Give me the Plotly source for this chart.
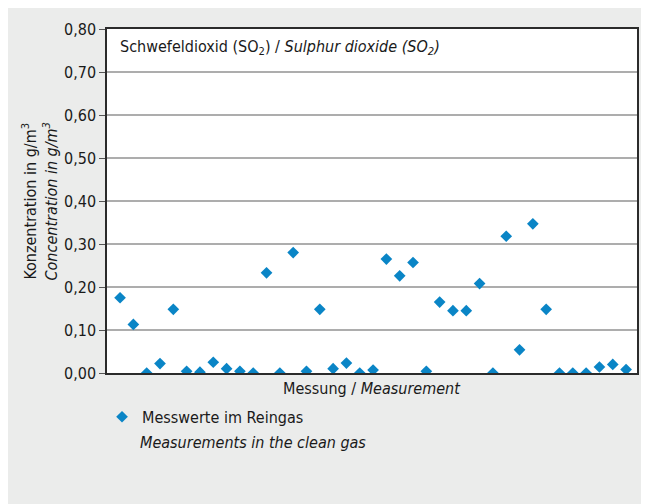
import plotly.graph_objects as go

FONT = "Liberation Sans Narrow, Arial Narrow, DejaVu Sans Condensed, sans-serif"
BLUE = "#0a85c6"
PANEL = "#ebeceb"

# Messung / Measurement (1..39) and SO2 concentration in g/m3
messung = list(range(1, 40))
so2 = [0.175, 0.113, 0.000, 0.022, 0.148, 0.004, 0.002, 0.025, 0.010, 0.004,
       0.000, 0.233, 0.000, 0.280, 0.004, 0.148, 0.010, 0.023, 0.000, 0.007,
       0.265, 0.226, 0.257, 0.004, 0.165, 0.145, 0.145, 0.208, 0.000, 0.318,
       0.054, 0.347, 0.148, 0.000, 0.000, 0.000, 0.014, 0.020, 0.008]
yticks = [0.0, 0.1, 0.2, 0.3, 0.4, 0.5, 0.6, 0.7, 0.8]

fig = go.Figure()
fig.add_trace(go.Scatter(
    x=messung, y=so2, mode="markers", name="Messwerte im Reingas",
    marker=dict(symbol="diamond", size=9, color=BLUE, line=dict(width=0)),
))

# the page body adds an 8px white edge, so the margins are shifted by 8px
fig.update_layout(
    width=649, height=504,
    margin=dict(l=99, r=20, t=18, b=139),
    paper_bgcolor=PANEL, plot_bgcolor="white",
    separators=",.",
    font=dict(family=FONT, size=16, color="#1a1a1a"),
    showlegend=True,
    legend=dict(x=-0.0094, y=-0.078, xanchor="left", yanchor="top",
                bgcolor="rgba(0,0,0,0)", font=dict(family=FONT, size=16),
                itemclick=False),
)
fig.update_xaxes(range=[0.02, 39.82], showticklabels=False, ticks="",
                 showgrid=False, zeroline=False, showline=True, mirror=True,
                 linecolor="#2b2b2b", linewidth=1.5)
fig.update_yaxes(range=[0, 0.8], tickvals=yticks, tickformat=".2f",
                 ticks="outside", ticklen=6, tickcolor="#555", tickwidth=1,
                 showgrid=True, gridcolor="#adadad", gridwidth=1.5,
                 zeroline=False, showline=True, mirror=True,
                 linecolor="#2b2b2b", linewidth=1.5,
                 tickfont=dict(family=FONT, size=16))

fig.add_annotation(
    text="Schwefeldioxid (SO<sub>2</sub>) / <i>Sulphur dioxide (SO<sub>2</sub>)</i>",
    xref="paper", yref="paper", x=0.0207, y=0.945, xanchor="left", yanchor="middle",
    showarrow=False, font=dict(family=FONT, size=16))
fig.add_annotation(
    text="Konzentration in g/m<sup>3</sup><br><i>Concentration in g/m<sup>3</sup></i>",
    xref="paper", yref="paper", x=-0.1255, y=0.5, xanchor="center", yanchor="middle",
    textangle=-90, showarrow=False, font=dict(family=FONT, size=16))
fig.add_annotation(
    text="Messung / <i>Measurement</i>",
    xref="paper", yref="paper", x=0.5, y=-0.046, xanchor="center", yanchor="middle",
    showarrow=False, font=dict(family=FONT, size=16))
fig.add_annotation(
    text="<i>Measurements in the clean gas</i>",
    xref="paper", yref="paper", x=0.0585, y=-0.2017, xanchor="left", yanchor="middle",
    showarrow=False, font=dict(family=FONT, size=16))

fig.write_html("out.html")
